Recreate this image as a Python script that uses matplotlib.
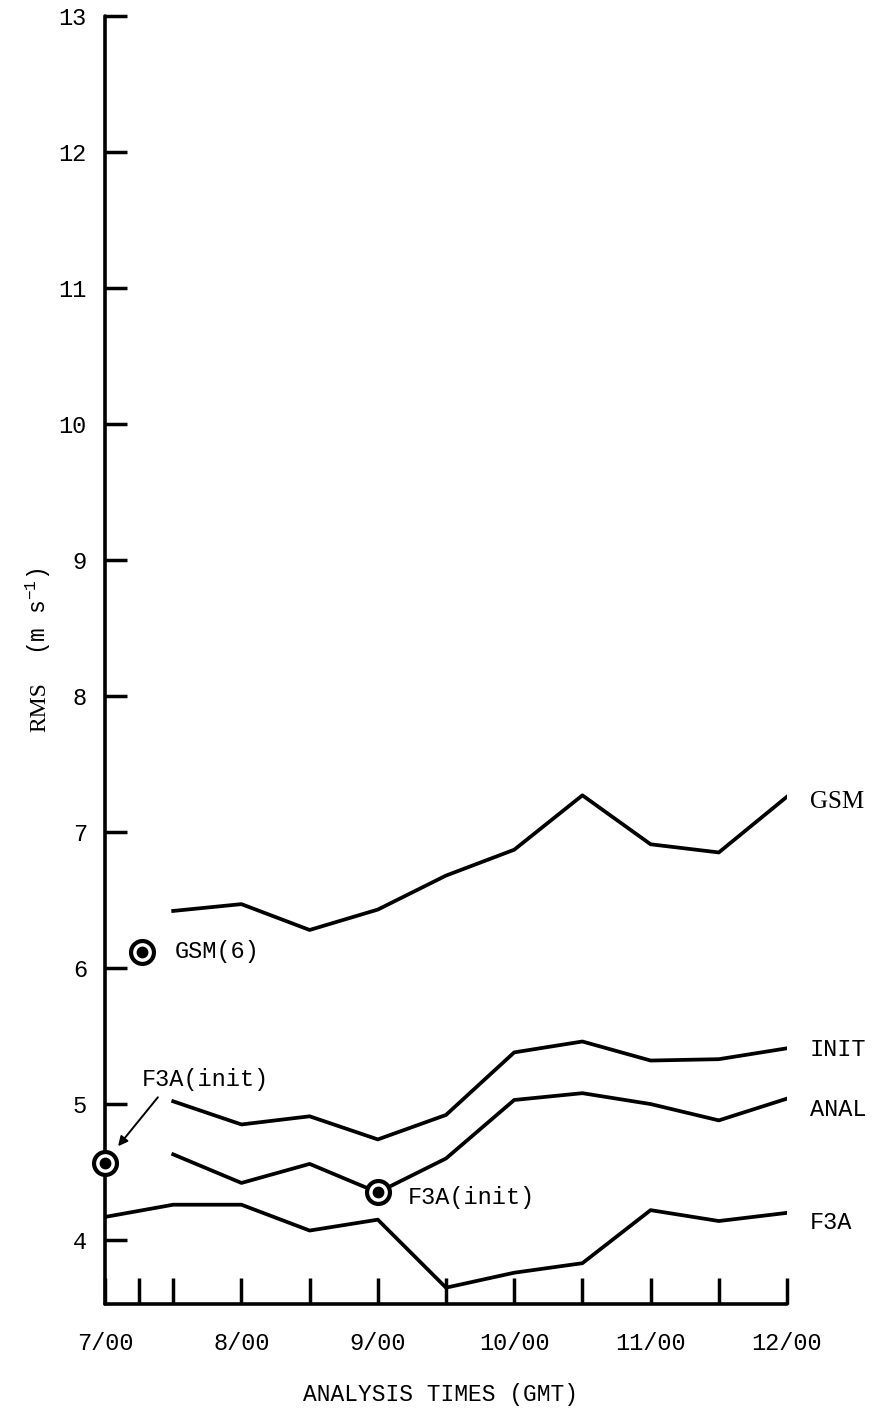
import matplotlib.pyplot as plt
from matplotlib.ticker import FixedLocator, NullFormatter

plt.rcParams['mathtext.fontset'] = 'custom'
plt.rcParams['mathtext.rm'] = 'Liberation Mono'

MONO = 'Liberation Mono'
SERIF = 'Liberation Serif'

# analysis times, hours after 7/00 GMT
hours = [0, 12, 24, 36, 48, 60, 72, 84, 96, 108, 120]
day_labels = ['7/00', '8/00', '9/00', '10/00', '11/00', '12/00']

# RMS vector error (m/s)
gsm = [6.42, 6.47, 6.28, 6.43, 6.68, 6.87, 7.27, 6.91, 6.85, 7.26]
init = [5.02, 4.85, 4.91, 4.74, 4.92, 5.38, 5.46, 5.32, 5.33, 5.41]
anal = [4.63, 4.42, 4.56, 4.35, 4.60, 5.03, 5.08, 5.00, 4.88, 5.04]
f3a = [4.17, 4.26, 4.26, 4.07, 4.15, 3.65, 3.76, 3.83, 4.22, 4.14, 4.20]

# single verification points
gsm6_hour, gsm6_val = 6.5, 6.12
f3a_init_hours = [0, 48]
f3a_init_vals = [4.57, 4.35]


def ring(ax, x, y):
    ax.plot(x, y, marker='o', ms=16.5, mfc='white', mec='black', mew=3.0,
            ls='none', clip_on=False, zorder=5)
    ax.plot(x, y, marker='o', ms=7.5, mfc='black', mec='black',
            ls='none', clip_on=False, zorder=6)


fig = plt.figure(figsize=(8.76, 14.16), dpi=100)
ax = fig.add_axes([0.1199, 0.0791, 0.7785, 0.9096])

lw = 2.7
ax.plot(hours[1:], gsm, color='black', lw=lw)
ax.plot(hours[1:], init, color='black', lw=lw)
ax.plot(hours[1:], anal, color='black', lw=lw)
ax.plot(hours, f3a, color='black', lw=lw)

ring(ax, gsm6_hour, gsm6_val)
for h, v in zip(f3a_init_hours, f3a_init_vals):
    ring(ax, h, v)

ax.set_xlim(0, 120)
ax.set_ylim(3.53, 13)

for side in ['top', 'right']:
    ax.spines[side].set_visible(False)
for side in ['left', 'bottom']:
    ax.spines[side].set_linewidth(2.6)
    ax.spines[side].set_capstyle('round')

ax.set_yticks(range(4, 14))
ax.set_yticklabels([str(v) for v in range(4, 14)], family=MONO, fontsize=17)
ax.tick_params(axis='y', direction='in', length=16, width=2.5, pad=13)

ax.xaxis.set_major_locator(FixedLocator(range(0, 121, 24)))
ax.set_xticklabels(day_labels, family=MONO, fontsize=17)
ax.xaxis.set_minor_locator(FixedLocator([6, 12, 36, 60, 84, 108]))
ax.xaxis.set_minor_formatter(NullFormatter())
ax.tick_params(axis='x', which='both', direction='in', length=19, width=2.5, pad=20)

# curve names at the right end
ax.text(124, 7.22, 'GSM', family=SERIF, fontsize=18, va='center', clip_on=False)
ax.text(124, 5.40, 'INIT', family=MONO, fontsize=17, va='center', clip_on=False)
ax.text(124, 4.96, 'ANAL', family=MONO, fontsize=17, va='center', clip_on=False)
ax.text(124, 4.13, 'F3A', family=MONO, fontsize=17, va='center', clip_on=False)

ax.text(12.3, 6.12, 'GSM(6)', family=MONO, fontsize=17, va='center')
ax.text(53.3, 4.31, 'F3A(init)', family=MONO, fontsize=17, va='center')
ax.text(6.5, 5.18, 'F3A(init)', family=MONO, fontsize=17, va='center')
ax.annotate('', xy=(2.3, 4.69), xytext=(9.3, 5.05),
            arrowprops=dict(arrowstyle='-|>', color='black', lw=1.4,
                            mutation_scale=14, shrinkA=0, shrinkB=0))

fig.text(0.503, 1 - 1395 / 1416, 'ANALYSIS TIMES (GMT)', family=MONO,
         fontsize=16.5, ha='center', va='center')
fig.text(0.046, 1 - 707 / 1416, 'RMS', family=SERIF, fontsize=17,
         rotation=90, ha='center', va='center')
fig.text(0.044, 1 - 612 / 1416, r'(m s$^{\mathrm{-1}}$)', family=MONO,
         fontsize=16.5, rotation=90, ha='center', va='center')

fig.savefig('out.png', dpi=100)
